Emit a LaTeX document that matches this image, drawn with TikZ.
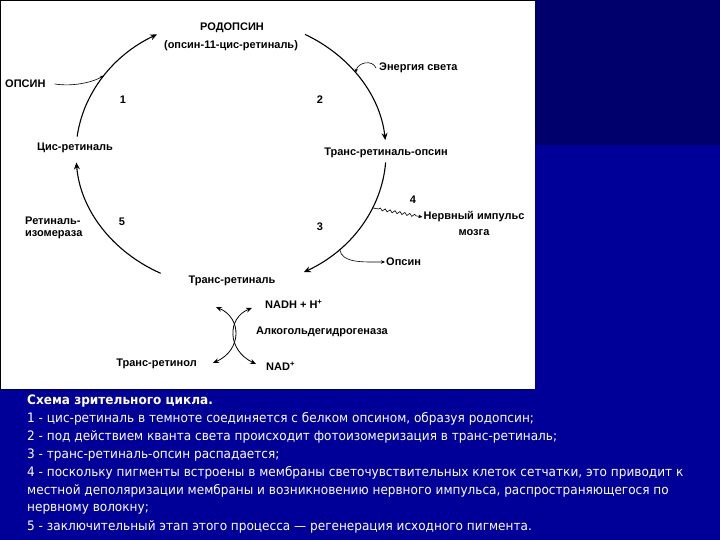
\documentclass[tikz,border=0pt]{standalone}
\usepackage{fontspec}
\setmainfont{Liberation Sans}
\newfontfamily\notefont[FakeStretch=0.93]{DejaVu Sans}
\usetikzlibrary{arrows.meta,decorations.pathmorphing,calc}

\definecolor{slide navy}{HTML}{00006C}
\definecolor{slide blue}{HTML}{000099}

\tikzstyle{label text}=[inner sep=1pt, font=\bfseries\fontsize{11}{13}\selectfont]
\tikzstyle{cycle arc}=[line width=1.1pt, -{Stealth[length=7pt,width=6pt]}]
\tikzstyle{side arrow}=[semithick, -{Stealth[length=4pt,width=3.5pt]}]
\tikzstyle{note}=[anchor=west, inner sep=0pt, text=white, font=\notefont\fontsize{13}{15}\selectfont]

\begin{document}
\begin{tikzpicture}[x=1pt,y=-1pt]
				\useasboundingbox (0,0) rectangle (720,540);

				% Slide background and the white panel
				\fill[slide navy] (535,0) rectangle (720,145);
				\fill[slide blue] (535,145) rectangle (720,540);
				\fill[slide blue] (0,389) rectangle (535,540);
				\fill[white] (0,0) rectangle (535,389);
				\draw[black, line width=1.5pt] (0,0.75) -- (535,0.75);
				\draw[black, line width=1pt] (0.5,0) -- (0.5,389);
				\draw[black!70!blue, line width=1pt] (0,389.5) -- (535,389.5);

				% Labels of the cycle
				\node[label text] (rhod) at (232,28) {РОДОПСИН};
				\node[label text] (rhodsub) at (231,46) {(опсин-11-цис-ретиналь)};
				\node[label text, anchor=west] (opsinL) at (4,84) {ОПСИН};
				\node[label text] (cis) at (75,148) {Цис-ретиналь};
				\node[label text, anchor=west] (light) at (378,68) {Энергия света};
				\node[label text] (transop) at (386,153) {Транс-ретиналь-опсин};
				\node[label text] (nerve) at (474,217) {Нервный импульс};
				\node[label text] (brain) at (474,233) {мозга};
				\node[label text, anchor=west] (opsinR) at (385,262) {Опсин};
				\node[label text, anchor=west] (iso1) at (24,221) {Ретиналь-};
				\node[label text, anchor=west] (iso2) at (24,235) {изомераза};
				\node[label text] (transret) at (232,281) {Транс-ретиналь};

				\foreach \n/\x/\y in {1/123/100, 2/320/100, 3/320/227, 4/413/200, 5/122/222}{
					\node[label text] (n\n) at (\x,\y) {\n};
				}

				% The cycle itself
				\coordinate (c) at (231,153);
				\draw[cycle arc] ($(c)+(-173:155 and 135)$) arc[start angle=-173, end angle=-118.5, x radius=155, y radius=135];
				\draw[cycle arc] ($(c)+(-61.5:155 and 135)$) arc[start angle=-61.5, end angle=-5.5, x radius=155, y radius=135];
				\draw[cycle arc] ($(c)+(4:155 and 135)$) arc[start angle=4, end angle=62, x radius=155, y radius=135];
				\draw[cycle arc] ($(c)+(117:155 and 135)$) arc[start angle=117, end angle=176, x radius=155, y radius=135];

				% Side arrows
				\coordinate (opsinIn) at ($(c)+(-145:155 and 135)$);
				\coordinate (lightIn) at ($(c)+(-36.5:155 and 135)$);
				\coordinate (nerveOut) at ($(c)+(24:155 and 135)$);
				\coordinate (opsinOut) at ($(c)+(45.5:155 and 135)$);
				\draw[side arrow] (opsinL.east) ++(8,0) .. controls +(20,3) and +(-10,6) .. (opsinIn);
				\draw[side arrow] (light.west) ++(-2,0) .. controls +(-4,-9) and +(2,-10) .. (lightIn);
				\draw[side arrow, decorate, decoration={snake, amplitude=1.3pt, segment length=5pt, pre length=6pt, post length=6pt}] (nerveOut) -- (nerve.west);
				\draw[side arrow] (opsinOut) .. controls +(2,14) and +(-22,0) .. (opsinR.west);

				% Reduction of trans-retinal
				\node[label text, anchor=west] (nadh) at (264,304) {NADH + H\textsuperscript{+}};
				\node[label text, anchor=west] (adh) at (255,332) {Алкогольдегидрогеназа};
				\node[label text, anchor=east] (retinol) at (198,364) {Транс-ретинол};
				\node[label text, anchor=west] (nad) at (265,366) {NAD\textsuperscript{+}};
				\coordinate (tl) at (216,307);
				\coordinate (tr) at (252,308);
				\coordinate (bl) at (213,363);
				\coordinate (br) at (256,364);
				\draw[side arrow, thick, {Stealth[length=6pt,width=5pt]}-{Stealth[length=6pt,width=5pt]}] (tl) .. controls (242,318) and (242,350) .. (bl);
				\draw[side arrow, thick, {Stealth[length=6pt,width=5pt]}-{Stealth[length=6pt,width=5pt]}] (tr) .. controls (227,318) and (227,350) .. (br);

				% Caption under the picture
				\node[note, font=\notefont\bfseries\fontsize{13}{15}\selectfont] (title) at (27,401) {Схема зрительного цикла.};
				\node[note] (s1) at (27,419) {1 - цис-ретиналь в темноте соединяется с белком опсином, образуя родопсин;};
				\node[note] (s2) at (27,437) {2 - под действием кванта света происходит фотоизомеризация в транс-ретиналь;};
				\node[note] (s3) at (27,455) {3 - транс-ретиналь-опсин распадается;};
				\node[note] (s4) at (27,473) {4 - поскольку пигменты встроены в мембраны светочувствительных клеток сетчатки, это приводит к};
				\node[note] (s4b) at (27,491) {местной деполяризации мембраны и возникновению нервного импульса, распространяющегося по};
				\node[note] (s4c) at (27,509) {нервному волокну;};
				\node[note] (s5) at (27,527) {5 - заключительный этап этого процесса — регенерация исходного пигмента.};
			\end{tikzpicture}
\end{document}
